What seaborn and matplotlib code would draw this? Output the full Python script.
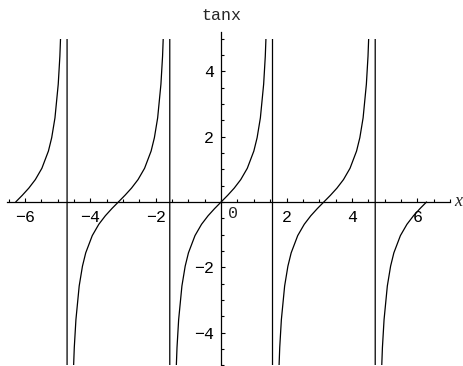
import matplotlib
matplotlib.use("Agg")
import matplotlib.pyplot as plt
from matplotlib.patches import Rectangle
from matplotlib.ticker import MultipleLocator, FixedLocator
import seaborn as sns
import pandas as pd

# sampled points of tan x, one polyline (jumps at the poles drawn as lines)
x_vals = [
    -6.283, -6.083, -5.883, -5.683, -5.483, -5.283, -5.183, -5.083, -4.983, -4.933, -4.883, -4.718,
    -4.707, -4.542, -4.492, -4.442, -4.342, -4.242, -4.142, -3.942, -3.742, -3.542, -3.342, -3.142,
    -2.942, -2.742, -2.542, -2.342, -2.142, -2.042, -1.942, -1.842, -1.792, -1.742, -1.577,
    -1.565, -1.400, -1.350, -1.300, -1.200, -1.100, -1.000, -0.800, -0.600, -0.400, -0.200, 0.000,
    0.200, 0.400, 0.600, 0.800, 1.000, 1.100, 1.200, 1.300, 1.350, 1.400, 1.565,
    1.577, 1.742, 1.792, 1.842, 1.942, 2.042, 2.142, 2.342, 2.542, 2.742, 2.942, 3.142,
    3.342, 3.542, 3.742, 3.942, 4.142, 4.242, 4.342, 4.442, 4.492, 4.542, 4.707,
    4.718, 4.883, 4.933, 4.983, 5.083, 5.183, 5.283, 5.483, 5.683, 5.883, 6.083, 6.283,
]
tan_vals = [
    0.0, 0.203, 0.423, 0.684, 1.030, 1.557, 1.965, 2.572, 3.602, 4.455, 5.798, 172.5,
    -172.5, -5.798, -4.455, -3.602, -2.572, -1.965, -1.557, -1.030, -0.684, -0.423, -0.203, 0.0,
    0.203, 0.423, 0.684, 1.030, 1.557, 1.965, 2.572, 3.602, 4.455, 5.798, 172.5,
    -172.5, -5.798, -4.455, -3.602, -2.572, -1.965, -1.557, -1.030, -0.684, -0.423, -0.203, 0.0,
    0.203, 0.423, 0.684, 1.030, 1.557, 1.965, 2.572, 3.602, 4.455, 5.798, 172.5,
    -172.5, -5.798, -4.455, -3.602, -2.572, -1.965, -1.557, -1.030, -0.684, -0.423, -0.203, 0.0,
    0.203, 0.423, 0.684, 1.030, 1.557, 1.965, 2.572, 3.602, 4.455, 5.798, 172.5,
    -172.5, -5.798, -4.455, -3.602, -2.572, -1.965, -1.557, -1.030, -0.684, -0.423, -0.203, 0.0,
]
x_ticks = [-6, -4, -2, 2, 4, 6]
y_ticks = [-4, -2, 2, 4]

df = pd.DataFrame({"x": x_vals, "tanx": tan_vals})

sns.set_style("white")
plt.rcParams["font.family"] = ["Liberation Mono", "DejaVu Sans Mono"]

fig = plt.figure(figsize=(4.63, 3.66), dpi=100)
ax = fig.add_axes([7 / 463, 0, 443 / 463, 334 / 366])

sns.lineplot(data=df, x="x", y="tanx", color="black", linewidth=0.9,
             estimator=None, sort=False, ax=ax)
# plot range of the curve is -5..5
ax.lines[0].set_clip_path(Rectangle((-7, -5.0), 14, 10.0, transform=ax.transData))

ax.set_xlim(-6.55, 7.0)
ax.set_ylim(-5.02, 5.2)

for s in ["top", "right"]:
    ax.spines[s].set_visible(False)
ax.spines["left"].set_position(("data", 0))
ax.spines["bottom"].set_position(("data", 0))
for s in ["left", "bottom"]:
    ax.spines[s].set_color("black")
    ax.spines[s].set_linewidth(0.9)

ax.xaxis.set_major_locator(FixedLocator(x_ticks))
ax.yaxis.set_major_locator(FixedLocator(y_ticks))
ax.xaxis.set_minor_locator(MultipleLocator(0.5))
ax.yaxis.set_minor_locator(MultipleLocator(0.5))
# seaborn "white" style turns the tick marks off
ax.tick_params(which="both", bottom=True, left=True, direction="in",
               color="black", width=0.8, labelsize=12, labelcolor="black")
ax.tick_params(which="major", length=3)
ax.tick_params(which="minor", length=2.2)
ax.tick_params(axis="x", pad=6)
ax.tick_params(axis="y", pad=5)
ax.set_xlabel("")
ax.set_ylabel("")

ax.text(0.37, -0.34, "0", ha="center", va="center", fontsize=12)
ax.text(0, 5.72, "tanx", ha="center", va="center", fontsize=12, clip_on=False)
ax.text(7.25, 0.02, "x", ha="center", va="center", fontsize=13,
        family="Liberation Serif", style="italic", clip_on=False)

fig.savefig("out.png", dpi=100)
